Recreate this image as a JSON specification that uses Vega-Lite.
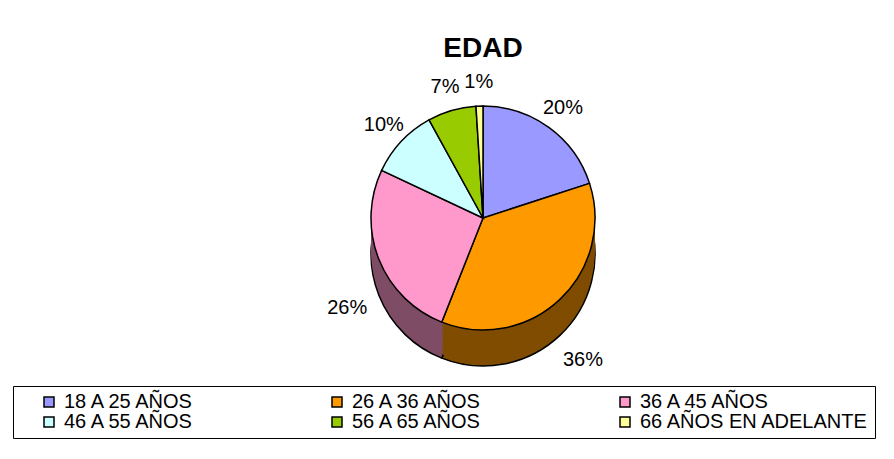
{
  "$schema": "https://vega.github.io/schema/vega-lite/v6.json",
  "autosize": "none",
  "width": 888,
  "height": 446,
  "padding": {"left": 6, "top": 13, "right": 0, "bottom": 0},
  "background": "white",
  "config": {
    "view": {"stroke": "black", "strokeWidth": 1.5},
    "font": "Liberation Sans"
  },
  "title": {
    "text": "EDAD",
    "fontSize": 28,
    "fontWeight": "bold",
    "font": "Liberation Sans",
    "color": "black",
    "anchor": "middle",
    "frame": "group",
    "dx": 33,
    "offset": -50
  },
  "data": {
    "values": [
      {"grupo": "18 A 25 AÑOS", "orden": 1, "pct": 0.20},
      {"grupo": "26 A 36 AÑOS", "orden": 2, "pct": 0.36},
      {"grupo": "36 A 45 AÑOS", "orden": 3, "pct": 0.26},
      {"grupo": "46 A 55 AÑOS", "orden": 4, "pct": 0.10},
      {"grupo": "56 A 65 AÑOS", "orden": 5, "pct": 0.07},
      {"grupo": "66 AÑOS EN ADELANTE", "orden": 6, "pct": 0.01}
    ]
  },
  "encoding": {
    "theta": {"field": "pct", "type": "quantitative", "stack": true},
    "order": {"field": "orden", "type": "quantitative"}
  },
  "layer": [
    {"mark": {"type": "arc", "radius": 112, "xOffset": 33, "yOffset": 18, "stroke": "black", "strokeWidth": 1.5},
     "encoding": {"color": {"field": "grupo", "type": "nominal", "legend": null,
       "scale": {"domain": ["18 A 25 AÑOS", "26 A 36 AÑOS", "36 A 45 AÑOS", "46 A 55 AÑOS", "56 A 65 AÑOS", "66 AÑOS EN ADELANTE"],
                 "range": ["#4C4C7F", "#7F4C00", "#7F4C66", "#667F7F", "#4C6600", "#7F7F4C"]}}}},
    {"mark": {"type": "arc", "radius": 112, "xOffset": 33, "yOffset": 14},
     "encoding": {"color": {"field": "grupo", "type": "nominal", "legend": null,
       "scale": {"domain": ["18 A 25 AÑOS", "26 A 36 AÑOS", "36 A 45 AÑOS", "46 A 55 AÑOS", "56 A 65 AÑOS", "66 AÑOS EN ADELANTE"],
                 "range": ["#4C4C7F", "#7F4C00", "#7F4C66", "#667F7F", "#4C6600", "#7F7F4C"]}}}},
    {"mark": {"type": "arc", "radius": 112, "xOffset": 33, "yOffset": 10},
     "encoding": {"color": {"field": "grupo", "type": "nominal", "legend": null,
       "scale": {"domain": ["18 A 25 AÑOS", "26 A 36 AÑOS", "36 A 45 AÑOS", "46 A 55 AÑOS", "56 A 65 AÑOS", "66 AÑOS EN ADELANTE"],
                 "range": ["#4C4C7F", "#7F4C00", "#7F4C66", "#667F7F", "#4C6600", "#7F7F4C"]}}}},
    {"mark": {"type": "arc", "radius": 112, "xOffset": 33, "yOffset": 6},
     "encoding": {"color": {"field": "grupo", "type": "nominal", "legend": null,
       "scale": {"domain": ["18 A 25 AÑOS", "26 A 36 AÑOS", "36 A 45 AÑOS", "46 A 55 AÑOS", "56 A 65 AÑOS", "66 AÑOS EN ADELANTE"],
                 "range": ["#4C4C7F", "#7F4C00", "#7F4C66", "#667F7F", "#4C6600", "#7F7F4C"]}}}},
    {"mark": {"type": "arc", "radius": 112, "xOffset": 33, "yOffset": 2},
     "encoding": {"color": {"field": "grupo", "type": "nominal", "legend": null,
       "scale": {"domain": ["18 A 25 AÑOS", "26 A 36 AÑOS", "36 A 45 AÑOS", "46 A 55 AÑOS", "56 A 65 AÑOS", "66 AÑOS EN ADELANTE"],
                 "range": ["#4C4C7F", "#7F4C00", "#7F4C66", "#667F7F", "#4C6600", "#7F7F4C"]}}}},
    {"mark": {"type": "arc", "radius": 112, "xOffset": 33, "yOffset": -2},
     "encoding": {"color": {"field": "grupo", "type": "nominal", "legend": null,
       "scale": {"domain": ["18 A 25 AÑOS", "26 A 36 AÑOS", "36 A 45 AÑOS", "46 A 55 AÑOS", "56 A 65 AÑOS", "66 AÑOS EN ADELANTE"],
                 "range": ["#4C4C7F", "#7F4C00", "#7F4C66", "#667F7F", "#4C6600", "#7F7F4C"]}}}},
    {"mark": {"type": "arc", "radius": 112, "xOffset": 33, "yOffset": -6},
     "encoding": {"color": {"field": "grupo", "type": "nominal", "legend": null,
       "scale": {"domain": ["18 A 25 AÑOS", "26 A 36 AÑOS", "36 A 45 AÑOS", "46 A 55 AÑOS", "56 A 65 AÑOS", "66 AÑOS EN ADELANTE"],
                 "range": ["#4C4C7F", "#7F4C00", "#7F4C66", "#667F7F", "#4C6600", "#7F7F4C"]}}}},
    {"mark": {"type": "arc", "radius": 112, "xOffset": 33, "yOffset": -10},
     "encoding": {"color": {"field": "grupo", "type": "nominal", "legend": null,
       "scale": {"domain": ["18 A 25 AÑOS", "26 A 36 AÑOS", "36 A 45 AÑOS", "46 A 55 AÑOS", "56 A 65 AÑOS", "66 AÑOS EN ADELANTE"],
                 "range": ["#4C4C7F", "#7F4C00", "#7F4C66", "#667F7F", "#4C6600", "#7F7F4C"]}}}},
    {"mark": {"type": "arc", "radius": 112, "xOffset": 33, "yOffset": -14},
     "encoding": {"color": {"field": "grupo", "type": "nominal", "legend": null,
       "scale": {"domain": ["18 A 25 AÑOS", "26 A 36 AÑOS", "36 A 45 AÑOS", "46 A 55 AÑOS", "56 A 65 AÑOS", "66 AÑOS EN ADELANTE"],
                 "range": ["#4C4C7F", "#7F4C00", "#7F4C66", "#667F7F", "#4C6600", "#7F7F4C"]}}}},
    {"mark": {"type": "arc", "radius": 112, "xOffset": 33, "yOffset": -18, "stroke": "black", "strokeWidth": 1.5},
     "encoding": {"color": {"field": "grupo", "type": "nominal",
       "scale": {"domain": ["18 A 25 AÑOS", "26 A 36 AÑOS", "36 A 45 AÑOS", "46 A 55 AÑOS", "56 A 65 AÑOS", "66 AÑOS EN ADELANTE"],
                 "range": ["#9999FF", "#FF9900", "#FF99CC", "#CCFFFF", "#99CC00", "#FFFF99"]},
       "legend": {
         "title": null, "orient": "none", "legendX": 7, "legendY": 373,
         "columns": 3, "direction": "horizontal", "gridAlign": "all",
         "symbolType": "square", "symbolSize": 100, "symbolStrokeColor": "black", "symbolStrokeWidth": 1.5,
         "symbolOffset": 20,
         "labelFont": "Liberation Sans", "labelFontSize": 20, "labelColor": "black", "labelLimit": 400, "labelOffset": 5,
         "columnPadding": 14, "rowPadding": 0,
         "strokeColor": "black", "fillColor": "white", "padding": 6
       }}}},
    {"mark": {"type": "text", "radius": 136, "xOffset": 33, "yOffset": -18, "fontSize": 20, "font": "Liberation Sans", "color": "black"},
     "encoding": {"text": {"condition": {"test": "datum.orden != 2 && datum.orden != 3", "field": "pct", "type": "quantitative", "format": ".0%"}, "value": ""}}},
    {"mark": {"type": "text", "radius": 146, "xOffset": 33, "yOffset": 18, "fontSize": 20, "font": "Liberation Sans", "color": "black"},
     "encoding": {"text": {"condition": {"test": "datum.orden == 2 || datum.orden == 3", "field": "pct", "type": "quantitative", "format": ".0%"}, "value": ""}}}
  ],
  "resolve": {"scale": {"color": "independent"}, "legend": {"color": "independent"}}
}
